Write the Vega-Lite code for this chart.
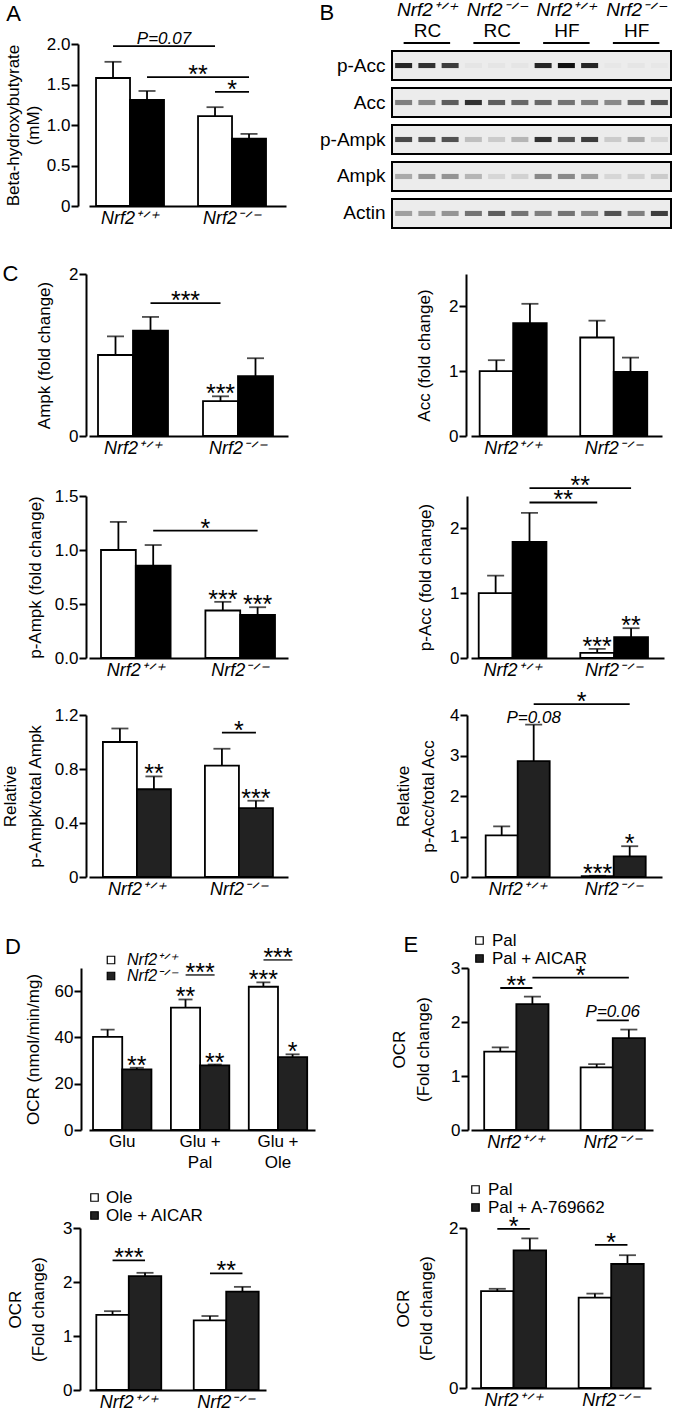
{
"$schema":"https://vega.github.io/schema/vega-lite/v6.json",
"padding":{"left":1,"top":0,"right":0,"bottom":0},
"background":"white",
"datasets":{
"bars":[
{"p":"A","x":"WT-a","g":"RC","v":1.58,"e":1.78,"s":""},
{"p":"A","x":"WT-b","g":"HF","v":1.31,"e":1.42,"s":""},
{"p":"A","x":"KO-a","g":"RC","v":1.11,"e":1.22,"s":""},
{"p":"A","x":"KO-b","g":"HF","v":0.83,"e":0.89,"s":""},
{"p":"C1","x":"WT-a","g":"RC","v":1.0,"e":1.23,"s":""},
{"p":"C1","x":"WT-b","g":"HF","v":1.30,"e":1.47,"s":""},
{"p":"C1","x":"KO-a","g":"RC","v":0.43,"e":0.49,"s":"***"},
{"p":"C1","x":"KO-b","g":"HF","v":0.74,"e":0.96,"s":""},
{"p":"C2","x":"WT-a","g":"RC","v":1.0,"e":1.17,"s":""},
{"p":"C2","x":"WT-b","g":"HF","v":1.74,"e":2.04,"s":""},
{"p":"C2","x":"KO-a","g":"RC","v":1.52,"e":1.78,"s":""},
{"p":"C2","x":"KO-b","g":"HF","v":0.99,"e":1.21,"s":""},
{"p":"C3","x":"WT-a","g":"RC","v":1.0,"e":1.26,"s":""},
{"p":"C3","x":"WT-b","g":"HF","v":0.855,"e":1.046,"s":""},
{"p":"C3","x":"KO-a","g":"RC","v":0.44,"e":0.52,"s":"***"},
{"p":"C3","x":"KO-b","g":"HF","v":0.40,"e":0.47,"s":"***"},
{"p":"C4","x":"WT-a","g":"RC","v":1.0,"e":1.27,"s":""},
{"p":"C4","x":"WT-b","g":"HF","v":1.79,"e":2.24,"s":""},
{"p":"C4","x":"KO-a","g":"RC","v":0.08,"e":0.14,"s":"***"},
{"p":"C4","x":"KO-b","g":"HF","v":0.32,"e":0.46,"s":"**"},
{"p":"C5","x":"WT-a","g":"RC","v":1.0,"e":1.10,"s":""},
{"p":"C5","x":"WT-b","g":"HF","v":0.65,"e":0.745,"s":"**"},
{"p":"C5","x":"KO-a","g":"RC","v":0.825,"e":0.95,"s":""},
{"p":"C5","x":"KO-b","g":"HF","v":0.51,"e":0.565,"s":"***"},
{"p":"C6","x":"WT-a","g":"RC","v":1.03,"e":1.25,"s":""},
{"p":"C6","x":"WT-b","g":"HF","v":2.86,"e":3.76,"s":""},
{"p":"C6","x":"KO-a","g":"RC","v":0.02,"e":0.03,"s":"***"},
{"p":"C6","x":"KO-b","g":"HF","v":0.51,"e":0.76,"s":"*"},
{"p":"D1","x":"Glu","o":"WT","g":"Nrf2⁺ᐟ⁺","v":40.2,"e":43.4,"s":""},
{"p":"D1","x":"Glu","o":"KO","g":"Nrf2⁻ᐟ⁻","v":26.2,"e":26.9,"s":"**"},
{"p":"D1","x":"Glu + Pal","o":"WT","g":"Nrf2⁺ᐟ⁺","v":52.9,"e":56.4,"s":"**"},
{"p":"D1","x":"Glu + Pal","o":"KO","g":"Nrf2⁻ᐟ⁻","v":27.9,"e":28.3,"s":"**"},
{"p":"D1","x":"Glu + Ole","o":"WT","g":"Nrf2⁺ᐟ⁺","v":61.9,"e":63.8,"s":"***"},
{"p":"D1","x":"Glu + Ole","o":"KO","g":"Nrf2⁻ᐟ⁻","v":31.5,"e":32.7,"s":"*"},
{"p":"E1","x":"WT-a","g":"Pal","v":1.45,"e":1.53,"s":""},
{"p":"E1","x":"WT-b","g":"Pal + AICAR","v":2.33,"e":2.47,"s":""},
{"p":"E1","x":"KO-a","g":"Pal","v":1.16,"e":1.22,"s":""},
{"p":"E1","x":"KO-b","g":"Pal + AICAR","v":1.70,"e":1.86,"s":""},
{"p":"D2","x":"WT-a","g":"Ole","v":1.39,"e":1.46,"s":""},
{"p":"D2","x":"WT-b","g":"Ole + AICAR","v":2.11,"e":2.17,"s":""},
{"p":"D2","x":"KO-a","g":"Ole","v":1.29,"e":1.37,"s":""},
{"p":"D2","x":"KO-b","g":"Ole + AICAR","v":1.82,"e":1.91,"s":""},
{"p":"E2","x":"WT-a","g":"Pal","v":1.21,"e":1.24,"s":""},
{"p":"E2","x":"WT-b","g":"Pal + A-769662","v":1.72,"e":1.87,"s":""},
{"p":"E2","x":"KO-a","g":"Pal","v":1.13,"e":1.18,"s":""},
{"p":"E2","x":"KO-b","g":"Pal + A-769662","v":1.55,"e":1.66,"s":""}
],
"brk":[
{"p":"A","a":"WT-a","b":"KO-a","y":1.975,"t":"P=0.07","m":"gap","k":"ie"},
{"p":"A","a":"WT-b","b":"KO-b","y":1.59,"t":"**","m":"KO-a","k":"e"},
{"p":"A","a":"KO-a","b":"KO-b","y":1.41,"t":"*","m":"KO-b","k":"e"},
{"p":"C1","a":"WT-b","b":"KO-a","y":1.64,"t":"***","m":"gap","k":"c"},
{"p":"C3","a":"WT-b","b":"KO-b","y":1.18,"t":"*","m":"KO-a","k":"e"},
{"p":"C4","a":"WT-b","b":"KO-b","y":2.62,"t":"**","m":"KO-a","k":"e"},
{"p":"C4","a":"WT-b","b":"KO-a","y":2.40,"t":"**","m":"gap","k":"c"},
{"p":"C5","a":"KO-a","b":"KO-b","y":1.07,"t":"*","m":"KO-b","k":"e"},
{"p":"C6","a":"WT-b","b":"KO-b","y":4.27,"t":"*","m":"KO-a","k":"e"},
{"p":"C6","y":3.76,"t":"P=0.08","m":"WT-b","k":"ic"},
{"p":"D1","a":"Glu + Pal","y":67,"t":"***","m":"Glu + Pal","k":"g"},
{"p":"D1","a":"Glu + Ole","y":73.5,"t":"***","m":"Glu + Ole","k":"g"},
{"p":"E1","a":"WT-a","b":"WT-b","y":2.63,"t":"**","m":"WT-b","k":"e"},
{"p":"E1","a":"WT-b","b":"KO-b","y":2.82,"t":"*","m":"KO-a","k":"e"},
{"p":"E1","a":"KO-a","b":"KO-b","y":2.03,"t":"P=0.06","m":"KO-b","k":"ie"},
{"p":"D2","a":"WT-a","b":"WT-b","y":2.40,"t":"***","m":"WT-b","k":"e"},
{"p":"D2","a":"KO-a","b":"KO-b","y":2.16,"t":"**","m":"KO-b","k":"e"},
{"p":"E2","a":"WT-a","b":"WT-b","y":1.99,"t":"*","m":"WT-b","k":"e"},
{"p":"E2","a":"KO-a","b":"KO-b","y":1.79,"t":"*","m":"KO-b","k":"e"}
],
"boxes":[{"r":"p-Acc","l1":1,"l2":12},{"r":"Acc","l1":1,"l2":12},{"r":"p-Ampk","l1":1,"l2":12},{"r":"Ampk","l1":1,"l2":12},{"r":"Actin","l1":1,"l2":12}],
"hdr":[{"a":1,"b":3,"r":"p-Acc"},{"a":4,"b":6,"r":"p-Acc"},{"a":7,"b":9,"r":"p-Acc"},{"a":10,"b":12,"r":"p-Acc"}],
"blot":[
{"r":"p-Acc","l":1,"i":0.9},{"r":"p-Acc","l":2,"i":0.85},{"r":"p-Acc","l":3,"i":0.8},{"r":"p-Acc","l":4,"i":0.03},{"r":"p-Acc","l":5,"i":0.03},{"r":"p-Acc","l":6,"i":0.03},{"r":"p-Acc","l":7,"i":0.9},{"r":"p-Acc","l":8,"i":1.0},{"r":"p-Acc","l":9,"i":0.9},{"r":"p-Acc","l":10,"i":0.02},{"r":"p-Acc","l":11,"i":0.03},{"r":"p-Acc","l":12,"i":0.02},
{"r":"Acc","l":1,"i":0.5},{"r":"Acc","l":2,"i":0.45},{"r":"Acc","l":3,"i":0.65},{"r":"Acc","l":4,"i":0.85},{"r":"Acc","l":5,"i":0.65},{"r":"Acc","l":6,"i":0.6},{"r":"Acc","l":7,"i":0.6},{"r":"Acc","l":8,"i":0.55},{"r":"Acc","l":9,"i":0.5},{"r":"Acc","l":10,"i":0.45},{"r":"Acc","l":11,"i":0.6},{"r":"Acc","l":12,"i":0.7},
{"r":"p-Ampk","l":1,"i":0.75},{"r":"p-Ampk","l":2,"i":0.7},{"r":"p-Ampk","l":3,"i":0.7},{"r":"p-Ampk","l":4,"i":0.2},{"r":"p-Ampk","l":5,"i":0.15},{"r":"p-Ampk","l":6,"i":0.25},{"r":"p-Ampk","l":7,"i":0.85},{"r":"p-Ampk","l":8,"i":0.7},{"r":"p-Ampk","l":9,"i":0.8},{"r":"p-Ampk","l":10,"i":0.15},{"r":"p-Ampk","l":11,"i":0.3},{"r":"p-Ampk","l":12,"i":0.1},
{"r":"Ampk","l":1,"i":0.3},{"r":"Ampk","l":2,"i":0.4},{"r":"Ampk","l":3,"i":0.4},{"r":"Ampk","l":4,"i":0.25},{"r":"Ampk","l":5,"i":0.1},{"r":"Ampk","l":6,"i":0.12},{"r":"Ampk","l":7,"i":0.45},{"r":"Ampk","l":8,"i":0.45},{"r":"Ampk","l":9,"i":0.35},{"r":"Ampk","l":10,"i":0.1},{"r":"Ampk","l":11,"i":0.12},{"r":"Ampk","l":12,"i":0.15},
{"r":"Actin","l":1,"i":0.35},{"r":"Actin","l":2,"i":0.35},{"r":"Actin","l":3,"i":0.4},{"r":"Actin","l":4,"i":0.55},{"r":"Actin","l":5,"i":0.65},{"r":"Actin","l":6,"i":0.55},{"r":"Actin","l":7,"i":0.5},{"r":"Actin","l":8,"i":0.55},{"r":"Actin","l":9,"i":0.45},{"r":"Actin","l":10,"i":0.7},{"r":"Actin","l":11,"i":0.5},{"r":"Actin","l":12,"i":0.8}
]
},
"columns":2,
"bounds":"flush",
"spacing":{"row":0,"column":156},
"resolve":{"scale":{"fill":"independent"},"legend":{"fill":"independent"}},
"concat":[
{"width":197,"height":162,"title":{"text":"A","dx":2},
"layer":[
{"data":{"name":"bars"},"transform":[{"filter":"datum.p == 'A'"}],"mark":{"type":"bar","stroke":"black","strokeWidth":1.8},
"encoding":{"x":{"field":"x","type":"nominal","scale":{"domain":["WT-a","WT-b","gap","KO-a","KO-b"],"paddingInner":0,"paddingOuter":0.397,"align":0.26},"axis":{"title":null,"labelExpr":"datum.value == 'WT-a' ? 'Nrf2⁺ᐟ⁺' : datum.value == 'KO-a' ? 'Nrf2⁻ᐟ⁻' : ''","labelOffset":17}},
"y":{"field":"v","type":"quantitative","scale":{"domain":[0,2],"nice":false},"axis":{"title":["Beta-hydroxybutyrate","(mM)"],"values":[0,0.5,1,1.5,2],"labelExpr":"datum.value == 0 ? '0' : format(datum.value, '.1f')","offset":11,"titlePadding":4,"titleLineHeight":20}},
"fill":{"field":"g","type":"nominal","scale":{"domain":["RC","HF"],"range":["white","black"]},"legend":null}}},
{"data":{"name":"bars"},"transform":[{"filter":"datum.p == 'A'"}],"mark":{"type":"rule","color":"black","strokeWidth":1.8},
"encoding":{"x":{"field":"x","type":"nominal"},"y":{"field":"v","type":"quantitative"},"y2":{"field":"e"}}},
{"data":{"name":"bars"},"transform":[{"filter":"datum.p == 'A'"}],"mark":{"type":"tick","color":"black","thickness":1.8,"size":17},
"encoding":{"x":{"field":"x","type":"nominal"},"y":{"field":"e","type":"quantitative"}}},
{"data":{"name":"brk"},"transform":[{"filter":"datum.p == 'A' && datum.a != null"}],"mark":{"type":"rule","color":"black","strokeWidth":1.8},
"encoding":{"x":{"field":"a","type":"nominal"},"x2":{"field":"b"},"y":{"field":"y","type":"quantitative"}}},
{"data":{"name":"brk"},"transform":[{"filter":"datum.p == 'A' && datum.k == 'e'"}],"mark":{"type":"text","fontSize":25,"baseline":"alphabetic","dy":6,"color":"black"},
"encoding":{"x":{"field":"m","type":"nominal","bandPosition":0},"y":{"field":"y","type":"quantitative"},"text":{"field":"t"}}},
{"data":{"name":"brk"},"transform":[{"filter":"datum.p == 'A' && datum.k == 'ie'"}],"mark":{"type":"text","fontSize":17,"fontStyle":"italic","baseline":"alphabetic","dy":-2,"color":"black"},
"encoding":{"x":{"field":"m","type":"nominal","bandPosition":0},"y":{"field":"y","type":"quantitative"},"text":{"field":"t"}}}
]},
{"width":201,"height":191,"title":{"text":"B","dy":29},
"layer":[
{"data":{"name":"boxes"},"mark":{"type":"rect","fill":"#ececec","stroke":"black","strokeWidth":2},
"encoding":{"x":{"field":"l1","type":"ordinal","bandPosition":0,"scale":{"domain":[1,2,3,4,5,6,7,8,9,10,11,12],"range":[-79,200],"paddingInner":0,"paddingOuter":0},"axis":null},
"x2":{"field":"l2","bandPosition":1},
"y":{"field":"r","type":"nominal","scale":{"domain":["p-Acc","Acc","p-Ampk","Ampk","Actin"],"paddingInner":0.216,"paddingOuter":0.19},"axis":{"title":null,"domain":false,"ticks":false,"labelFontSize":19,"labelPadding":5,"offset":81}}}},
{"data":{"name":"blot"},"mark":{"type":"point","shape":"M-1,-0.3L1,-0.3L1,0.3L-1,0.3Z","filled":true,"color":"#111","size":289,"strokeWidth":0},
"encoding":{"x":{"field":"l","type":"ordinal","scale":{"domain":[1,2,3,4,5,6,7,8,9,10,11,12],"range":[-79,200],"paddingInner":0,"paddingOuter":0},"axis":{"orient":"top","title":null,"values":[2,5,8,11],"labelExpr":"datum.value <= 5 ? 'RC' : 'HF'","domain":false,"ticks":false,"labelFontStyle":"normal","labelFontSize":19,"labelPadding":4}},
"y":{"field":"r","type":"nominal"},
"opacity":{"field":"i","type":"quantitative","scale":{"domain":[0,1],"range":[0,1]},"legend":null}}},
{"data":{"name":"hdr"},"mark":{"type":"rule","color":"black","strokeWidth":2,"yOffset":-8},
"encoding":{"x":{"field":"a","type":"ordinal","scale":{"domain":[1,2,3,4,5,6,7,8,9,10,11,12],"range":[-79,200],"paddingInner":0,"paddingOuter":0},"axis":{"orient":"top","title":null,"values":[2,5,8,11],"labelExpr":"datum.value == 2 || datum.value == 8 ? 'Nrf2⁺ᐟ⁺' : 'Nrf2⁻ᐟ⁻'","domain":false,"ticks":false,"labelFontSize":19,"labelPadding":4,"offset":21}},
"x2":{"field":"b"},
"y":{"field":"r","type":"nominal","bandPosition":0}}}
],
"resolve":{"scale":{"x":"independent"}}},
{"width":1,"height":39,"data":{"values":[]},"mark":"point"},
{"width":1,"height":39,"data":{"values":[]},"mark":"point"},
{"width":199,"height":162,"title":{"text":"C","dx":-33,"dy":25},
"layer":[
{"data":{"name":"bars"},"transform":[{"filter":"datum.p == 'C1'"}],"mark":{"type":"bar","stroke":"black","strokeWidth":1.8},
"encoding":{"x":{"field":"x","type":"nominal","scale":{"domain":["WT-a","WT-b","gap","KO-a","KO-b"],"paddingInner":0,"paddingOuter":0.343,"align":0.375},"axis":{"title":null,"labelExpr":"datum.value == 'WT-a' ? 'Nrf2⁺ᐟ⁺' : datum.value == 'KO-a' ? 'Nrf2⁻ᐟ⁻' : ''","labelOffset":17.5}},
"y":{"field":"v","type":"quantitative","scale":{"domain":[0,2],"nice":false},"axis":{"title":"Ampk (fold change)","values":[0,1,2],"format":"d","offset":3,"titlePadding":15}},
"fill":{"field":"g","type":"nominal","scale":{"domain":["RC","HF"],"range":["white","black"]},"legend":null}}},
{"data":{"name":"bars"},"transform":[{"filter":"datum.p == 'C1'"}],"mark":{"type":"rule","color":"black","strokeWidth":1.8},
"encoding":{"x":{"field":"x","type":"nominal"},"y":{"field":"v","type":"quantitative"},"y2":{"field":"e"}}},
{"data":{"name":"bars"},"transform":[{"filter":"datum.p == 'C1'"}],"mark":{"type":"tick","color":"black","thickness":1.8,"size":17},
"encoding":{"x":{"field":"x","type":"nominal"},"y":{"field":"e","type":"quantitative"}}},
{"data":{"name":"bars"},"transform":[{"filter":"datum.p == 'C1'"}],"mark":{"type":"text","fontSize":25,"baseline":"alphabetic","dy":6,"color":"black"},
"encoding":{"x":{"field":"x","type":"nominal"},"y":{"field":"e","type":"quantitative"},"text":{"field":"s"}}},
{"data":{"name":"brk"},"transform":[{"filter":"datum.p == 'C1' && datum.a != null"}],"mark":{"type":"rule","color":"black","strokeWidth":1.8},
"encoding":{"x":{"field":"a","type":"nominal"},"x2":{"field":"b"},"y":{"field":"y","type":"quantitative"}}},
{"data":{"name":"brk"},"transform":[{"filter":"datum.p == 'C1' && datum.k == 'c'"}],"mark":{"type":"text","fontSize":25,"baseline":"alphabetic","dy":6,"color":"black"},
"encoding":{"x":{"field":"m","type":"nominal"},"y":{"field":"y","type":"quantitative"},"text":{"field":"t"}}}
]},
{"width":191,"height":162,
"layer":[
{"data":{"name":"bars"},"transform":[{"filter":"datum.p == 'C2'"}],"mark":{"type":"bar","stroke":"black","strokeWidth":1.8},
"encoding":{"x":{"field":"x","type":"nominal","scale":{"domain":["WT-a","WT-b","gap","KO-a","KO-b"],"paddingInner":0,"paddingOuter":0.349,"align":0.37},"axis":{"title":null,"labelExpr":"datum.value == 'WT-a' ? 'Nrf2⁺ᐟ⁺' : datum.value == 'KO-a' ? 'Nrf2⁻ᐟ⁻' : ''","labelOffset":16.8}},
"y":{"field":"v","type":"quantitative","scale":{"domain":[0,2.5],"nice":false},"axis":{"title":"Acc (fold change)","values":[0,1,2],"format":"d","offset":5,"titlePadding":15}},
"fill":{"field":"g","type":"nominal","scale":{"domain":["RC","HF"],"range":["white","black"]},"legend":null}}},
{"data":{"name":"bars"},"transform":[{"filter":"datum.p == 'C2'"}],"mark":{"type":"rule","color":"black","strokeWidth":1.8},
"encoding":{"x":{"field":"x","type":"nominal"},"y":{"field":"v","type":"quantitative"},"y2":{"field":"e"}}},
{"data":{"name":"bars"},"transform":[{"filter":"datum.p == 'C2'"}],"mark":{"type":"tick","color":"black","thickness":1.8,"size":17},
"encoding":{"x":{"field":"x","type":"nominal"},"y":{"field":"e","type":"quantitative"}}}
]},
{"width":1,"height":60,"data":{"values":[]},"mark":"point"},
{"width":1,"height":60,"data":{"values":[]},"mark":"point"},
{"width":199,"height":162,
"layer":[
{"data":{"name":"bars"},"transform":[{"filter":"datum.p == 'C3'"}],"mark":{"type":"bar","stroke":"black","strokeWidth":1.8},
"encoding":{"x":{"field":"x","type":"nominal","scale":{"domain":["WT-a","WT-b","gap","KO-a","KO-b"],"paddingInner":0,"paddingOuter":0.359,"align":0.48},"axis":{"title":null,"labelExpr":"datum.value == 'WT-a' ? 'Nrf2⁺ᐟ⁺' : datum.value == 'KO-a' ? 'Nrf2⁻ᐟ⁻' : ''","labelOffset":17.4}},
"y":{"field":"v","type":"quantitative","scale":{"domain":[0,1.5],"nice":false},"axis":{"title":"p-Ampk (fold change)","values":[0,0.5,1,1.5],"format":".1f","offset":3,"titlePadding":10}},
"fill":{"field":"g","type":"nominal","scale":{"domain":["RC","HF"],"range":["white","black"]},"legend":null}}},
{"data":{"name":"bars"},"transform":[{"filter":"datum.p == 'C3'"}],"mark":{"type":"rule","color":"black","strokeWidth":1.8},
"encoding":{"x":{"field":"x","type":"nominal"},"y":{"field":"v","type":"quantitative"},"y2":{"field":"e"}}},
{"data":{"name":"bars"},"transform":[{"filter":"datum.p == 'C3'"}],"mark":{"type":"tick","color":"black","thickness":1.8,"size":17},
"encoding":{"x":{"field":"x","type":"nominal"},"y":{"field":"e","type":"quantitative"}}},
{"data":{"name":"bars"},"transform":[{"filter":"datum.p == 'C3'"}],"mark":{"type":"text","fontSize":25,"baseline":"alphabetic","dy":6,"color":"black"},
"encoding":{"x":{"field":"x","type":"nominal"},"y":{"field":"e","type":"quantitative"},"text":{"field":"s"}}},
{"data":{"name":"brk"},"transform":[{"filter":"datum.p == 'C3' && datum.a != null"}],"mark":{"type":"rule","color":"black","strokeWidth":1.8},
"encoding":{"x":{"field":"a","type":"nominal"},"x2":{"field":"b"},"y":{"field":"y","type":"quantitative"}}},
{"data":{"name":"brk"},"transform":[{"filter":"datum.p == 'C3' && datum.k == 'e'"}],"mark":{"type":"text","fontSize":25,"baseline":"alphabetic","dy":6,"color":"black"},
"encoding":{"x":{"field":"m","type":"nominal","bandPosition":0},"y":{"field":"y","type":"quantitative"},"text":{"field":"t"}}}
]},
{"width":193,"height":162,
"layer":[
{"data":{"name":"bars"},"transform":[{"filter":"datum.p == 'C4'"}],"mark":{"type":"bar","stroke":"black","strokeWidth":1.8},
"encoding":{"x":{"field":"x","type":"nominal","scale":{"domain":["WT-a","WT-b","gap","KO-a","KO-b"],"paddingInner":0,"paddingOuter":0.35,"align":0.325},"axis":{"title":null,"labelExpr":"datum.value == 'WT-a' ? 'Nrf2⁺ᐟ⁺' : datum.value == 'KO-a' ? 'Nrf2⁻ᐟ⁻' : ''","labelOffset":16.9}},
"y":{"field":"v","type":"quantitative","scale":{"domain":[0,2.5],"nice":false},"axis":{"title":"p-Acc (fold change)","values":[0,1,2],"format":"d","offset":4,"titlePadding":15}},
"fill":{"field":"g","type":"nominal","scale":{"domain":["RC","HF"],"range":["white","black"]},"legend":null}}},
{"data":{"name":"bars"},"transform":[{"filter":"datum.p == 'C4'"}],"mark":{"type":"rule","color":"black","strokeWidth":1.8},
"encoding":{"x":{"field":"x","type":"nominal"},"y":{"field":"v","type":"quantitative"},"y2":{"field":"e"}}},
{"data":{"name":"bars"},"transform":[{"filter":"datum.p == 'C4'"}],"mark":{"type":"tick","color":"black","thickness":1.8,"size":17},
"encoding":{"x":{"field":"x","type":"nominal"},"y":{"field":"e","type":"quantitative"}}},
{"data":{"name":"bars"},"transform":[{"filter":"datum.p == 'C4'"}],"mark":{"type":"text","fontSize":25,"baseline":"alphabetic","dy":6,"color":"black"},
"encoding":{"x":{"field":"x","type":"nominal"},"y":{"field":"e","type":"quantitative"},"text":{"field":"s"}}},
{"data":{"name":"brk"},"transform":[{"filter":"datum.p == 'C4' && datum.a != null"}],"mark":{"type":"rule","color":"black","strokeWidth":1.8},
"encoding":{"x":{"field":"a","type":"nominal"},"x2":{"field":"b"},"y":{"field":"y","type":"quantitative"}}},
{"data":{"name":"brk"},"transform":[{"filter":"datum.p == 'C4' && datum.k == 'e'"}],"mark":{"type":"text","fontSize":25,"baseline":"alphabetic","dy":6,"color":"black"},
"encoding":{"x":{"field":"m","type":"nominal","bandPosition":0},"y":{"field":"y","type":"quantitative"},"text":{"field":"t"}}},
{"data":{"name":"brk"},"transform":[{"filter":"datum.p == 'C4' && datum.k == 'c'"}],"mark":{"type":"text","fontSize":25,"baseline":"alphabetic","dy":6,"color":"black"},
"encoding":{"x":{"field":"m","type":"nominal"},"y":{"field":"y","type":"quantitative"},"text":{"field":"t"}}}
]},
{"width":1,"height":57,"data":{"values":[]},"mark":"point"},
{"width":1,"height":57,"data":{"values":[]},"mark":"point"},
{"width":199,"height":162,
"layer":[
{"data":{"name":"bars"},"transform":[{"filter":"datum.p == 'C5'"}],"mark":{"type":"bar","stroke":"black","strokeWidth":1.8},
"encoding":{"x":{"field":"x","type":"nominal","scale":{"domain":["WT-a","WT-b","gap","KO-a","KO-b"],"paddingInner":0,"paddingOuter":0.426,"align":0.48},"axis":{"title":null,"labelExpr":"datum.value == 'WT-a' ? 'Nrf2⁺ᐟ⁺' : datum.value == 'KO-a' ? 'Nrf2⁻ᐟ⁻' : ''","labelOffset":17}},
"y":{"field":"v","type":"quantitative","scale":{"domain":[0,1.2],"nice":false},"axis":{"title":["Relative","p-Ampk/total Ampk"],"values":[0,0.4,0.8,1.2],"labelExpr":"datum.value == 0 ? '0' : format(datum.value, '.1f')","offset":3,"titlePadding":10,"titleLineHeight":25}},
"fill":{"field":"g","type":"nominal","scale":{"domain":["RC","HF"],"range":["white","#222"]},"legend":null}}},
{"data":{"name":"bars"},"transform":[{"filter":"datum.p == 'C5'"}],"mark":{"type":"rule","color":"black","strokeWidth":1.8},
"encoding":{"x":{"field":"x","type":"nominal"},"y":{"field":"v","type":"quantitative"},"y2":{"field":"e"}}},
{"data":{"name":"bars"},"transform":[{"filter":"datum.p == 'C5'"}],"mark":{"type":"tick","color":"black","thickness":1.8,"size":17},
"encoding":{"x":{"field":"x","type":"nominal"},"y":{"field":"e","type":"quantitative"}}},
{"data":{"name":"bars"},"transform":[{"filter":"datum.p == 'C5'"}],"mark":{"type":"text","fontSize":25,"baseline":"alphabetic","dy":6,"color":"black"},
"encoding":{"x":{"field":"x","type":"nominal"},"y":{"field":"e","type":"quantitative"},"text":{"field":"s"}}},
{"data":{"name":"brk"},"transform":[{"filter":"datum.p == 'C5' && datum.a != null"}],"mark":{"type":"rule","color":"black","strokeWidth":1.8},
"encoding":{"x":{"field":"a","type":"nominal"},"x2":{"field":"b"},"y":{"field":"y","type":"quantitative"}}},
{"data":{"name":"brk"},"transform":[{"filter":"datum.p == 'C5' && datum.k == 'e'"}],"mark":{"type":"text","fontSize":25,"baseline":"alphabetic","dy":6,"color":"black"},
"encoding":{"x":{"field":"m","type":"nominal","bandPosition":0},"y":{"field":"y","type":"quantitative"},"text":{"field":"t"}}}
]},
{"width":191,"height":162,
"layer":[
{"data":{"name":"bars"},"transform":[{"filter":"datum.p == 'C6'"}],"mark":{"type":"bar","stroke":"black","strokeWidth":1.8},
"encoding":{"x":{"field":"x","type":"nominal","scale":{"domain":["WT-a","WT-b","gap","KO-a","KO-b"],"paddingInner":0,"paddingOuter":0.484,"align":0.474},"axis":{"title":null,"labelExpr":"datum.value == 'WT-a' ? 'Nrf2⁺ᐟ⁺' : datum.value == 'KO-a' ? 'Nrf2⁻ᐟ⁻' : ''","labelOffset":16}},
"y":{"field":"v","type":"quantitative","scale":{"domain":[0,4],"nice":false},"axis":{"title":["Relative","p-Acc/total Acc"],"values":[0,1,2,3,4],"format":"d","offset":4,"titlePadding":12,"titleLineHeight":25}},
"fill":{"field":"g","type":"nominal","scale":{"domain":["RC","HF"],"range":["white","#222"]},"legend":null}}},
{"data":{"name":"bars"},"transform":[{"filter":"datum.p == 'C6'"}],"mark":{"type":"rule","color":"black","strokeWidth":1.8},
"encoding":{"x":{"field":"x","type":"nominal"},"y":{"field":"v","type":"quantitative"},"y2":{"field":"e"}}},
{"data":{"name":"bars"},"transform":[{"filter":"datum.p == 'C6'"}],"mark":{"type":"tick","color":"black","thickness":1.8,"size":17},
"encoding":{"x":{"field":"x","type":"nominal"},"y":{"field":"e","type":"quantitative"}}},
{"data":{"name":"bars"},"transform":[{"filter":"datum.p == 'C6'"}],"mark":{"type":"text","fontSize":25,"baseline":"alphabetic","dy":6,"color":"black"},
"encoding":{"x":{"field":"x","type":"nominal"},"y":{"field":"e","type":"quantitative"},"text":{"field":"s"}}},
{"data":{"name":"brk"},"transform":[{"filter":"datum.p == 'C6' && datum.a != null"}],"mark":{"type":"rule","color":"black","strokeWidth":1.8},
"encoding":{"x":{"field":"a","type":"nominal"},"x2":{"field":"b"},"y":{"field":"y","type":"quantitative"}}},
{"data":{"name":"brk"},"transform":[{"filter":"datum.p == 'C6' && datum.k == 'e'"}],"mark":{"type":"text","fontSize":25,"baseline":"alphabetic","dy":6,"color":"black"},
"encoding":{"x":{"field":"m","type":"nominal","bandPosition":0},"y":{"field":"y","type":"quantitative"},"text":{"field":"t"}}},
{"data":{"name":"brk"},"transform":[{"filter":"datum.p == 'C6' && datum.k == 'ic'"}],"mark":{"type":"text","fontSize":17,"fontStyle":"italic","baseline":"alphabetic","dy":-2,"color":"black"},
"encoding":{"x":{"field":"m","type":"nominal"},"y":{"field":"y","type":"quantitative"},"text":{"field":"t"}}}
]},
{"width":1,"height":91,"data":{"values":[]},"mark":"point"},
{"width":1,"height":91,"data":{"values":[]},"mark":"point"},
{"width":226,"height":162,"title":{"text":"D","dx":-19,"dy":17},
"layer":[
{"data":{"name":"bars"},"transform":[{"filter":"datum.p == 'D1'"}],"mark":{"type":"bar","stroke":"black","strokeWidth":1.8},
"encoding":{"x":{"field":"x","type":"nominal","scale":{"domain":["Glu","Glu + Pal","Glu + Ole"],"paddingInner":0.25,"paddingOuter":0.076,"align":0.34},"axis":{"title":null,"labelFontStyle":"normal","labelFontSize":17,"labelLineHeight":21,"labelExpr":"datum.value == 'Glu' ? 'Glu' : [slice(datum.value, 0, 5), slice(datum.value, 6)]"}},
"xOffset":{"field":"o","type":"nominal","scale":{"domain":["WT","KO"],"paddingInner":0,"paddingOuter":0}},
"y":{"field":"v","type":"quantitative","scale":{"domain":[0,70],"nice":false},"axis":{"title":"OCR (nmol/min/mg)","values":[0,20,40,60],"format":"d","offset":8,"titlePadding":12}},
"fill":{"field":"g","type":"nominal","scale":{"domain":["Nrf2⁺ᐟ⁺","Nrf2⁻ᐟ⁻"],"range":["white","#222"]},"legend":{"orient":"none","legendX":14,"legendY":-16,"title":null,"labelFontStyle":"italic","labelFontSize":16,"symbolType":"square","labelOffset":8}}}},
{"data":{"name":"bars"},"transform":[{"filter":"datum.p == 'D1'"}],"mark":{"type":"rule","color":"black","strokeWidth":1.8},
"encoding":{"x":{"field":"x","type":"nominal"},"xOffset":{"field":"o","type":"nominal"},"y":{"field":"v","type":"quantitative"},"y2":{"field":"e"}}},
{"data":{"name":"bars"},"transform":[{"filter":"datum.p == 'D1'"}],"mark":{"type":"tick","color":"black","thickness":1.8,"size":14},
"encoding":{"x":{"field":"x","type":"nominal"},"xOffset":{"field":"o","type":"nominal"},"y":{"field":"e","type":"quantitative"}}},
{"data":{"name":"bars"},"transform":[{"filter":"datum.p == 'D1'"}],"mark":{"type":"text","fontSize":25,"baseline":"alphabetic","dy":6,"color":"black"},
"encoding":{"x":{"field":"x","type":"nominal"},"xOffset":{"field":"o","type":"nominal"},"y":{"field":"e","type":"quantitative"},"text":{"field":"s"}}},
{"data":{"name":"brk"},"transform":[{"filter":"datum.p == 'D1'"}],"mark":{"type":"tick","color":"black","thickness":1.8,"size":29},
"encoding":{"x":{"field":"a","type":"nominal"},"y":{"field":"y","type":"quantitative"}}},
{"data":{"name":"brk"},"transform":[{"filter":"datum.p == 'D1'"}],"mark":{"type":"text","fontSize":25,"baseline":"alphabetic","dy":6,"color":"black"},
"encoding":{"x":{"field":"m","type":"nominal"},"y":{"field":"y","type":"quantitative"},"text":{"field":"t"}}}
]},
{"width":182,"height":162,"title":{"text":"E","dx":13,"dy":29},
"layer":[
{"data":{"name":"bars"},"transform":[{"filter":"datum.p == 'E1'"}],"mark":{"type":"bar","stroke":"black","strokeWidth":1.8},
"encoding":{"x":{"field":"x","type":"nominal","scale":{"domain":["WT-a","WT-b","gap","KO-a","KO-b"],"paddingInner":0,"paddingOuter":0.331,"align":0.62},"axis":{"title":null,"labelExpr":"datum.value == 'WT-a' ? 'Nrf2⁺ᐟ⁺' : datum.value == 'KO-a' ? 'Nrf2⁻ᐟ⁻' : ''","labelOffset":16}},
"y":{"field":"v","type":"quantitative","scale":{"domain":[0,3],"nice":false},"axis":{"title":["OCR","(Fold change)"],"values":[0,1,2,3],"format":"d","offset":3,"titlePadding":18,"titleLineHeight":24}},
"fill":{"field":"g","type":"nominal","scale":{"domain":["Pal","Pal + AICAR"],"range":["white","#222"]},"legend":{"orient":"none","legendX":0,"legendY":-36,"title":null,"symbolType":"square","labelOffset":4}}}},
{"data":{"name":"bars"},"transform":[{"filter":"datum.p == 'E1'"}],"mark":{"type":"rule","color":"black","strokeWidth":1.8},
"encoding":{"x":{"field":"x","type":"nominal"},"y":{"field":"v","type":"quantitative"},"y2":{"field":"e"}}},
{"data":{"name":"bars"},"transform":[{"filter":"datum.p == 'E1'"}],"mark":{"type":"tick","color":"black","thickness":1.8,"size":17},
"encoding":{"x":{"field":"x","type":"nominal"},"y":{"field":"e","type":"quantitative"}}},
{"data":{"name":"brk"},"transform":[{"filter":"datum.p == 'E1' && datum.a != null"}],"mark":{"type":"rule","color":"black","strokeWidth":1.8},
"encoding":{"x":{"field":"a","type":"nominal"},"x2":{"field":"b"},"y":{"field":"y","type":"quantitative"}}},
{"data":{"name":"brk"},"transform":[{"filter":"datum.p == 'E1' && datum.k == 'e'"}],"mark":{"type":"text","fontSize":25,"baseline":"alphabetic","dy":6,"color":"black"},
"encoding":{"x":{"field":"m","type":"nominal","bandPosition":0},"y":{"field":"y","type":"quantitative"},"text":{"field":"t"}}},
{"data":{"name":"brk"},"transform":[{"filter":"datum.p == 'E1' && datum.k == 'ie'"}],"mark":{"type":"text","fontSize":17,"fontStyle":"italic","baseline":"alphabetic","dy":-3,"color":"black"},
"encoding":{"x":{"field":"m","type":"nominal","bandPosition":0},"y":{"field":"y","type":"quantitative"},"text":{"field":"t"}}}
]},
{"width":1,"height":98,"data":{"values":[]},"mark":"point"},
{"width":1,"height":98,"data":{"values":[]},"mark":"point"},
{"width":177,"height":162,
"layer":[
{"data":{"name":"bars"},"transform":[{"filter":"datum.p == 'D2'"}],"mark":{"type":"bar","stroke":"black","strokeWidth":1.8},
"encoding":{"x":{"field":"x","type":"nominal","scale":{"domain":["WT-a","WT-b","gap","KO-a","KO-b"],"paddingInner":0,"paddingOuter":0.225,"align":0.5},"axis":{"title":null,"labelExpr":"datum.value == 'WT-a' ? 'Nrf2⁺ᐟ⁺' : datum.value == 'KO-a' ? 'Nrf2⁻ᐟ⁻' : ''","labelOffset":16.2}},
"y":{"field":"v","type":"quantitative","scale":{"domain":[0,3],"nice":false},"axis":{"title":["OCR","(Fold change)"],"values":[0,1,2,3],"format":"d","offset":9,"titlePadding":15,"titleLineHeight":23}},
"fill":{"field":"g","type":"nominal","scale":{"domain":["Ole","Ole + AICAR"],"range":["white","#222"]},"legend":{"orient":"none","legendX":-3,"legendY":-39,"title":null,"symbolType":"square","labelOffset":3}}}},
{"data":{"name":"bars"},"transform":[{"filter":"datum.p == 'D2'"}],"mark":{"type":"rule","color":"black","strokeWidth":1.8},
"encoding":{"x":{"field":"x","type":"nominal"},"y":{"field":"v","type":"quantitative"},"y2":{"field":"e"}}},
{"data":{"name":"bars"},"transform":[{"filter":"datum.p == 'D2'"}],"mark":{"type":"tick","color":"black","thickness":1.8,"size":17},
"encoding":{"x":{"field":"x","type":"nominal"},"y":{"field":"e","type":"quantitative"}}},
{"data":{"name":"brk"},"transform":[{"filter":"datum.p == 'D2' && datum.a != null"}],"mark":{"type":"rule","color":"black","strokeWidth":1.8},
"encoding":{"x":{"field":"a","type":"nominal"},"x2":{"field":"b"},"y":{"field":"y","type":"quantitative"}}},
{"data":{"name":"brk"},"transform":[{"filter":"datum.p == 'D2' && datum.k == 'e'"}],"mark":{"type":"text","fontSize":25,"baseline":"alphabetic","dy":6,"color":"black"},
"encoding":{"x":{"field":"m","type":"nominal","bandPosition":0},"y":{"field":"y","type":"quantitative"},"text":{"field":"t"}}}
]},
{"width":180,"height":160,
"layer":[
{"data":{"name":"bars"},"transform":[{"filter":"datum.p == 'E2'"}],"mark":{"type":"bar","stroke":"black","strokeWidth":1.8},
"encoding":{"x":{"field":"x","type":"nominal","scale":{"domain":["WT-a","WT-b","gap","KO-a","KO-b"],"paddingInner":0,"paddingOuter":0.266,"align":0.58},"axis":{"title":null,"labelExpr":"datum.value == 'WT-a' ? 'Nrf2⁺ᐟ⁺' : datum.value == 'KO-a' ? 'Nrf2⁻ᐟ⁻' : ''","labelOffset":16.3}},
"y":{"field":"v","type":"quantitative","scale":{"domain":[0,2],"nice":false},"axis":{"title":["OCR","(Fold change)"],"values":[0,1,2],"format":"d","offset":5,"titlePadding":13,"titleLineHeight":23}},
"fill":{"field":"g","type":"nominal","scale":{"domain":["Pal","Pal + A-769662"],"range":["white","#222"]},"legend":{"orient":"none","legendX":-4,"legendY":-47,"title":null,"symbolType":"square","labelOffset":4}}}},
{"data":{"name":"bars"},"transform":[{"filter":"datum.p == 'E2'"}],"mark":{"type":"rule","color":"black","strokeWidth":1.8},
"encoding":{"x":{"field":"x","type":"nominal"},"y":{"field":"v","type":"quantitative"},"y2":{"field":"e"}}},
{"data":{"name":"bars"},"transform":[{"filter":"datum.p == 'E2'"}],"mark":{"type":"tick","color":"black","thickness":1.8,"size":17},
"encoding":{"x":{"field":"x","type":"nominal"},"y":{"field":"e","type":"quantitative"}}},
{"data":{"name":"brk"},"transform":[{"filter":"datum.p == 'E2' && datum.a != null"}],"mark":{"type":"rule","color":"black","strokeWidth":1.8},
"encoding":{"x":{"field":"a","type":"nominal"},"x2":{"field":"b"},"y":{"field":"y","type":"quantitative"}}},
{"data":{"name":"brk"},"transform":[{"filter":"datum.p == 'E2' && datum.k == 'e'"}],"mark":{"type":"text","fontSize":25,"baseline":"alphabetic","dy":6,"color":"black"},
"encoding":{"x":{"field":"m","type":"nominal","bandPosition":0},"y":{"field":"y","type":"quantitative"},"text":{"field":"t"}}}
]}
],
"config":{
"font":"Liberation Sans",
"view":{"stroke":null},
"axis":{"domainColor":"black","domainWidth":2,"tickColor":"black","tickWidth":2,"labelColor":"black","labelFontSize":17,"titleColor":"black","titleFontSize":17,"titleFontWeight":"normal","grid":false,"labelOverlap":false,"labelBound":false,"titleLineHeight":22},
"axisX":{"ticks":false,"labelAngle":0,"labelFontStyle":"italic","labelFontSize":18,"labelPadding":3},
"axisY":{"tickSize":7,"labelPadding":1},
"title":{"fontSize":22,"fontWeight":"normal","anchor":"start","frame":"bounds","color":"black","offset":0},
"legend":{"labelFontSize":17,"labelColor":"black","symbolType":"square","symbolSize":56,"symbolStrokeColor":"black","symbolStrokeWidth":1.2,"rowPadding":0,"labelOffset":4}
}
}
